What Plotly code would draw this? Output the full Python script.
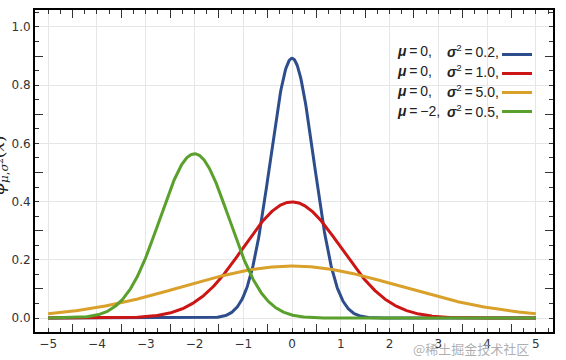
import numpy as np
import plotly.graph_objects as go

mu_values = [0, 0, 0, -2]
sigma2_values = [0.2, 1.0, 5.0, 0.5]
mu_labels = ["0", "0", "0", "−2"]
sigma2_labels = ["0.2", "1.0", "5.0", "0.5"]
colors = ["#2e4d8c", "#cc1616", "#d9a02a", "#5aa02c"]

x_tick_vals = [-5, -4, -3, -2, -1, 0, 1, 2, 3, 4, 5]
y_tick_vals = [0.0, 0.2, 0.4, 0.6, 0.8, 1.0]
x_long_ticks = [-4.5, -3.5, -2.5, -1.5, -0.5, 0.5, 1.5, 2.5, 3.5, 4.5]
y_long_ticks = [0.1, 0.3, 0.5, 0.7, 0.9]

x_min, x_max = -5.0, 5.0
xs = np.linspace(x_min, x_max, 801)

W, H = 566, 360
ML, MR, MT, MB = 35, 13, 10, 28
PW, PH = W - ML - MR, H - MT - MB


def px(xp):
    return (xp - ML) / PW


def py(yp):
    return (H - MB - yp) / PH


fig = go.Figure()
for mu, s2, c in zip(mu_values, sigma2_values, colors):
    ys = np.exp(-(xs - mu) ** 2 / (2 * s2)) / np.sqrt(2 * np.pi * s2)
    fig.add_trace(go.Scatter(x=xs, y=ys, mode="lines", name=" ",
                             line=dict(color=c, width=3), showlegend=True))

# invisible trace to activate overlay axes for long ticks
fig.add_trace(go.Scatter(x=[None], y=[None], xaxis="x2", yaxis="y2",
                         showlegend=False, hoverinfo="skip"))

xr = [-5.27, 5.35]
yr = [-0.048, 1.058]
tickfont = dict(family="DejaVu Sans", size=12, color="#333333")

fig.update_layout(
    width=W, height=H,
    margin=dict(l=ML, r=MR, t=MT, b=MB, autoexpand=False),
    paper_bgcolor="white", plot_bgcolor="white",
    showlegend=True,
    legend=dict(x=px(497), y=py(40), xanchor="left", yanchor="top",
                bgcolor="rgba(0,0,0,0)", font=dict(size=10),
                tracegroupgap=0, itemwidth=30),
    xaxis=dict(range=xr, tickvals=x_tick_vals, ticks="inside", ticklen=0,
               automargin=False,
               showgrid=True, gridcolor="#e6e6e6", gridwidth=1,
               showline=True, linecolor="black", linewidth=2, mirror="ticks",
               zeroline=False, tickfont=tickfont,
               minor=dict(dtick=0.25, tick0=0, ticks="inside", ticklen=4,
                          tickcolor="#333", showgrid=False)),
    yaxis=dict(range=yr, tickvals=y_tick_vals, ticks="inside", ticklen=0,
               tickformat=".1f", automargin=False,
               showgrid=True, gridcolor="#e6e6e6", gridwidth=1,
               showline=True, linecolor="black", linewidth=2, mirror="ticks",
               zeroline=False, tickfont=tickfont,
               minor=dict(dtick=0.05, tick0=0, ticks="inside", ticklen=4,
                          tickcolor="#333", showgrid=False)),
    xaxis2=dict(range=xr, overlaying="x", anchor="y", side="bottom",
                automargin=False,
                tickvals=x_long_ticks, ticks="inside", ticklen=8,
                tickcolor="#333", showticklabels=False, showgrid=False,
                zeroline=False, showline=True, linecolor="black",
                linewidth=2, mirror="ticks"),
    yaxis2=dict(range=yr, overlaying="y", anchor="x", side="left",
                automargin=False,
                tickvals=y_long_ticks, ticks="inside", ticklen=8,
                tickcolor="#333", showticklabels=False, showgrid=False,
                zeroline=False, showline=True, linecolor="black",
                linewidth=2, mirror="ticks"),
)

annos = []
row_y = [51, 71, 91, 111]
lfont = dict(family="Liberation Sans", size=14, color="#222222")
ts = "\u2009"
for ry, ml, sl in zip(row_y, mu_labels, sigma2_labels):
    annos.append(dict(x=px(395), y=py(ry), xref="paper", yref="paper",
                      xanchor="left", yanchor="middle", showarrow=False,
                      text=f"<b><i>μ</i></b>{ts}={ts}{ml},", font=lfont))
    annos.append(dict(x=px(501), y=py(ry), xref="paper", yref="paper",
                      xanchor="right", yanchor="middle", showarrow=False,
                      text=f"<b><i>σ</i></b><sup>2</sup>{ts}={ts}{sl},",
                      font=lfont))

annos.append(dict(x=px(-1), y=py(165), xref="paper", yref="paper",
                  xanchor="center", yanchor="middle", showarrow=False,
                  textangle=-90,
                  text="<i>φ</i><sub><i>μ</i>,<i>σ</i><sup>2</sup></sub>(<i>x</i>)",
                  font=dict(family="DejaVu Serif", size=17, color="#222")))

annos.append(dict(x=px(531), y=py(348), xref="paper", yref="paper",
                  xanchor="right", yanchor="middle", showarrow=False,
                  text="@稀土掘金技术社区",
                  font=dict(family="Noto Sans CJK SC", size=13,
                            color="rgba(160,160,160,0.85)")))

fig.update_layout(annotations=annos)
fig.write_html("out.html",
               config={"displayModeBar": False},
               post_script="document.body.style.margin='0';"
                           "document.body.style.overflow='hidden';")
